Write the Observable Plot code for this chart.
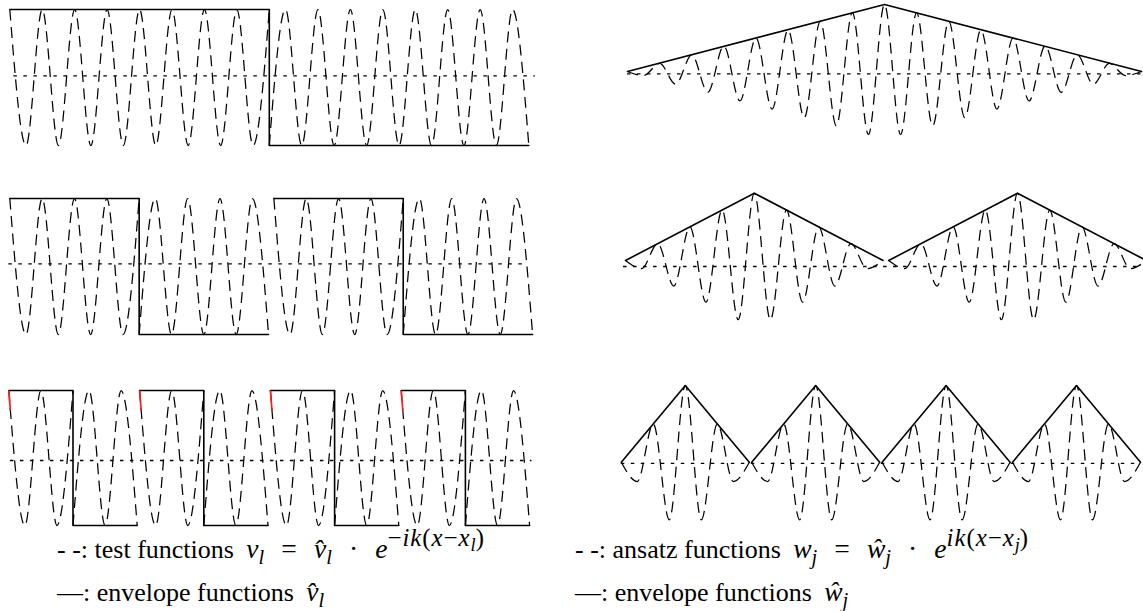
<!DOCTYPE html>
<html>
<head>
<meta charset="utf-8">
<script src="https://cdn.jsdelivr.net/npm/d3@7"></script>
<script src="https://cdn.jsdelivr.net/npm/@observablehq/plot@0.6"></script>
<style>
  html, body { margin: 0; padding: 0; background: #fff; overflow: hidden; }
  #fig { position: relative; width: 1143px; height: 611px; }
  #fig svg { position: absolute; left: 0; top: 0; }
  .legend { position: absolute; font-family: 'Liberation Serif', 'DejaVu Serif', 'Liberation Sans', sans-serif;
            font-size: 26px; line-height: 1; white-space: nowrap; color: #000; }
  .math { margin-left: 0.45em; font-size: 1.06em; }
  .sup { position: relative; top: -0.5em; font-size: 0.9em; letter-spacing: 0.04em; }
  .sub { position: relative; top: 0.28em; font-size: 0.74em; letter-spacing: 0; }
  .op { margin: 0 0.62em; }
</style>
</head>
<body>
<div id="fig">
  <div class="legend" style="left:57px;top:535px">- -: test functions<span class="math"><i>v</i><span class="sub"><i>l</i></span><span class="op">=</span><i>v̂</i><span class="sub"><i>l</i></span><span class="op">·</span><i>e</i><span class="sup">−<i>ik</i>(<i>x</i>−<i>x</i><span class="sub"><i>l</i></span>)</span></span></div>
  <div class="legend" style="left:57px;top:578px">—: envelope functions<span class="math"><i>v̂</i><span class="sub"><i>l</i></span></span></div>
  <div class="legend" style="left:575px;top:535px">- -: ansatz functions<span class="math"><i>w</i><span class="sub"><i>j</i></span><span class="op">=</span><i>ŵ</i><span class="sub"><i>j</i></span><span class="op">·</span><i>e</i><span class="sup"><i>ik</i>(<i>x</i>−<i>x</i><span class="sub"><i>j</i></span>)</span></span></div>
  <div class="legend" style="left:575px;top:578px">—: envelope functions<span class="math"><i>ŵ</i><span class="sub"><i>j</i></span></span></div>
</div>
<script>
// x is measured in half-periods of the oscillation e^{±ik x}.

// Test functions (left column): envelope +1 on the first half, -1 on the second
const testStartsA = [0];
const testStartsB = [0, 16.33];
const testStartsC = [0, 8.15, 16.3, 24.45];
const testEnvA = [[0, 1], [16, 1], [16, -1], [32, -1]];
const testEnvB = [[0, 1], [8, 1], [8, -1], [16, -1]];
const testEnvC = [[0, 1], [4, 1], [4, -1], [8, -1]];
// extrema of the real part, one list for each half of the envelope
const testWaveA = [
  [1, -1, 1, -1, 1, -1, 1, -1, 1, -1, 1, -1, 1, -1, 1, -1, 1],
  [-1, 1, -1, 1, -1, 1, -1, 1, -1, 1, -1, 1, -1, 1, -1, 1, -1]
];
const testWaveB = [
  [1, -1, 1, -1, 1, -1, 1, -1, 1],
  [-1, 1, -1, 1, -1, 1, -1, 1, -1]
];
const testWaveC = [
  [1, -1, 1, -1, 1],
  [-1, 1, -1, 1, -1]
];

// Ansatz functions (right column): hat envelopes
const ansatzStartsD = [0];
const ansatzStartsE = [0, 16.35];
const ansatzStartsF = [0, 8.15, 16.3, 24.45];
const ansatzEnvD = [[0, 0], [16, 1], [32, 0]];
const ansatzEnvE = [[0, 0], [8, 1], [16, 0]];
const ansatzEnvF = [[0, 0], [4, 1], [8, 0]];
// extrema of the real part, one per half-period
const ansatzWaveD = [0, -0.06, 0.12, -0.19, 0.25, -0.31, 0.38, -0.44, 0.5, -0.56, 0.62, -0.69, 0.75, -0.81, 0.88, -0.94, 1,
                     -0.94, 0.88, -0.81, 0.75, -0.69, 0.62, -0.56, 0.5, -0.44, 0.38, -0.31, 0.25, -0.19, 0.12, -0.06, 0];
const ansatzWaveE = [0, -0.12, 0.25, -0.38, 0.5, -0.62, 0.75, -0.88, 1, -0.88, 0.75, -0.62, 0.5, -0.38, 0.25, -0.12, 0];
const ansatzWaveF = [0, -0.25, 0.5, -0.75, 1, -0.75, 0.5, -0.25, 0];

// dotted zero lines, panels A-F: level and extent
const zeroLevel = [0.025, 0.04, -0.037, -0.034, -0.089, -0.013];
const zeroFrom = [0.25, -0.06, 0.1, 0, -0.12, 0];
const zeroTo = [32.4, 32.08, 32.6, 32, 32.2, 32.5];

function testRows(starts, env, halves) {
  const half = env[env.length - 1][0] / 2;
  const envRows = [], waveRows = [], firstRows = [];
  starts.forEach((s, f) => {
    env.forEach(([x, y]) => envRows.push({x: s + x, y, fn: f}));
    halves.forEach((vals, h) => vals.forEach((y, i) => {
      const row = {x: s + h * half + i, y, piece: f + "-" + h};
      waveRows.push(row);
      if (h === 0) firstRows.push(row);
    }));
  });
  return {envRows, waveRows, firstRows};
}

function ansatzRows(starts, env, vals) {
  const envRows = [], waveRows = [];
  starts.forEach((s, f) => {
    env.forEach(([x, y]) => envRows.push({x: s + x, y, fn: f}));
    vals.forEach((y, i) => waveRows.push({x: s + i, y, piece: f}));
  });
  return {envRows, waveRows};
}

const fig = document.getElementById("fig");

function draw(k, rows, xDomain, xRange, yRange, red) {
  const marks = [
    Plot.ruleY([{y: zeroLevel[k], x1: zeroFrom[k], x2: zeroTo[k]}],
      {y: "y", x1: "x1", x2: "x2", stroke: "black", strokeWidth: 1.3, strokeDasharray: "3.5,6.5", strokeLinecap: "butt"}),
    Plot.line(rows.waveRows, {x: "x", y: "y", z: "piece", curve: "monotone-x",
      stroke: "black", strokeWidth: 1.25, strokeDasharray: "11,6.5", strokeLinecap: "butt"}),
    Plot.line(rows.envRows, {x: "x", y: "y", z: "fn", stroke: "black", strokeWidth: 1.6})
  ];
  if (red) {
    marks.push(Plot.line(rows.firstRows, {x: "x", y: "y", z: "piece", curve: "monotone-x",
      stroke: "#ff1a1a", strokeWidth: 1.7, strokeDasharray: "20,4000", strokeLinecap: "butt"}));
  }
  const svg = Plot.plot({
    width: 1143, height: 545, margin: 0,
    x: {axis: null, domain: xDomain, range: xRange},
    y: {axis: null, domain: [-1, 1], range: yRange},
    style: {background: "transparent", overflow: "visible"},
    marks
  });
  fig.insertBefore(svg, fig.firstChild);
}

draw(0, testRows(testStartsA, testEnvA, testWaveA), [0, 32], [9.3, 528.3], [145, 9]);
draw(1, testRows(testStartsB, testEnvB, testWaveB), [0, 32.33], [9.3, 532.1], [334, 198]);
draw(2, testRows(testStartsC, testEnvC, testWaveC), [0, 32.45], [8.3, 529.1], [525, 390], true);
draw(3, ansatzRows(ansatzStartsD, ansatzEnvD, ansatzWaveD), [0, 32], [627, 1141], [138, 4]);
draw(4, ansatzRows(ansatzStartsE, ansatzEnvE, ansatzWaveE), [0, 32.35], [625, 1145.8], [327.3, 192.7]);
draw(5, ansatzRows(ansatzStartsF, ansatzEnvF, ansatzWaveF), [0, 32.45], [620.8, 1140], [538.6, 385]);
</script>
</body>
</html>
